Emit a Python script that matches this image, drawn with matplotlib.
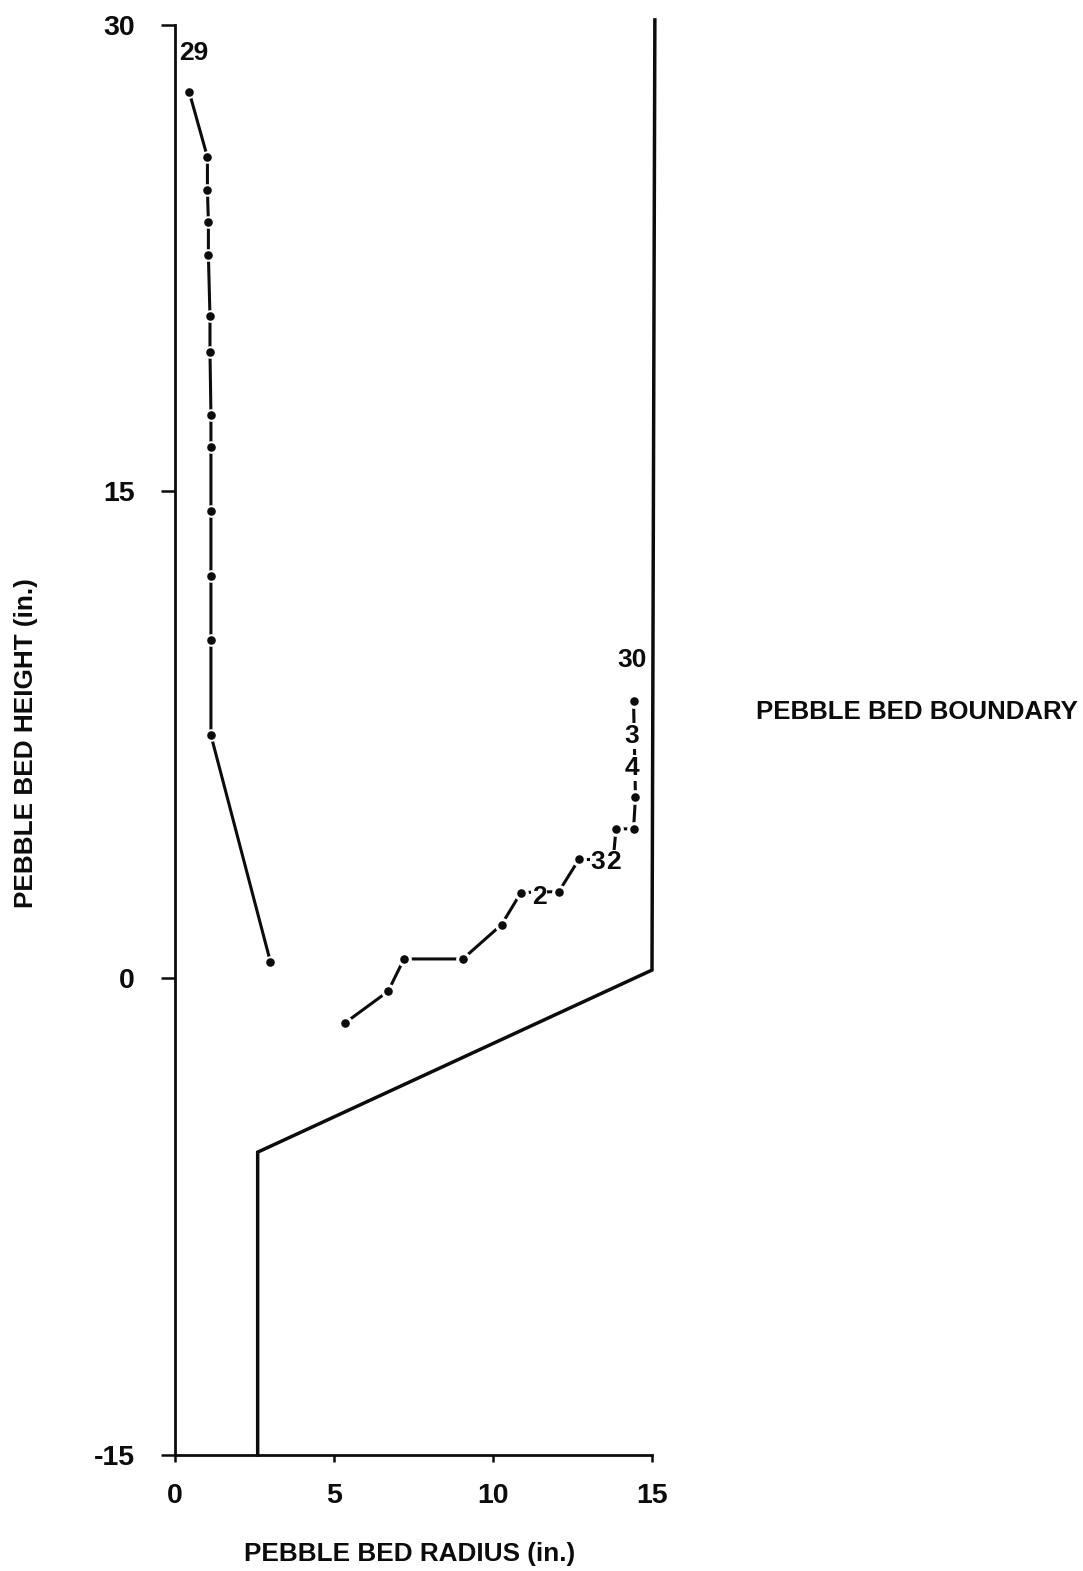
import matplotlib
matplotlib.use('Agg')
import matplotlib.pyplot as plt

# ── Data (inches) ────────────────────────────────────────────────────────────
RUN29_R = [0.45, 1.02, 1.02, 1.05, 1.05, 1.10, 1.10, 1.13, 1.13, 1.13, 1.13, 1.13, 1.13, 3.00]
RUN29_H = [27.88, 25.84, 24.8, 23.79, 22.75, 20.83, 19.72, 17.74, 16.73, 14.72, 12.65, 10.65, 7.65, 0.52]

RUN30_R = [5.35, 6.70, 7.20, 9.05, 10.27, 10.88, 12.07, 12.70, 13.30, 13.78, 13.87, 14.42, 14.48, 14.42]
RUN30_H = [-1.40, -0.41, 0.61, 0.61, 1.69, 2.70, 2.73, 3.74, 3.74, 3.74, 4.71, 4.70, 5.70, 8.72]

BOUND_R = [15.09, 15.0, 2.6, 2.6]
BOUND_H = [30.16, 0.26, -5.47, -15.0]

X_TICKS = [0, 5, 10, 15]
X_LABELS = ['0', '5', '10', '15']
Y_TICKS = [-15, 0, 15.34, 30]   # the scan's 15 mark sits a little high
Y_LABELS = ['-15', '0', '15', '30']

# ── Canvas ───────────────────────────────────────────────────────────────────
W, H = 1083, 1571
FONT = 'Liberation Sans'
INK = '#0c0c0c'

fig = plt.figure(figsize=(W / 100, H / 100), dpi=100, facecolor='white')
ax = fig.add_axes([175 / W, 1 - 1455 / H, (652 - 175) / W, (1455 - 25) / H])
ax.set_xlim(0, 15)
ax.set_ylim(-15, 30)

for side in ('top', 'right'):
    ax.spines[side].set_visible(False)
for side in ('left', 'bottom'):
    ax.spines[side].set_linewidth(2.0)
    ax.spines[side].set_color(INK)

ax.set_xticks(X_TICKS, X_LABELS)
ax.set_yticks(Y_TICKS, Y_LABELS)
ax.tick_params(axis='x', length=5, width=1.8, color=INK, pad=15, labelcolor=INK)
ax.tick_params(axis='y', length=10, width=1.8, color=INK, pad=19, labelcolor=INK)
for lab in ax.get_xticklabels() + ax.get_yticklabels():
    lab.set_fontfamily(FONT)
    lab.set_fontsize(20.5)
    lab.set_fontweight('bold')

# ── Boundary and the two runs ────────────────────────────────────────────────
ax.plot(BOUND_R, BOUND_H, color=INK, lw=2.5, clip_on=False, solid_joinstyle='miter', zorder=3)

ax.plot(RUN29_R, RUN29_H, color=INK, lw=2.2, marker='o', ms=7.6, mfc=INK,
        mec='white', mew=1.4, clip_on=False, zorder=4)
ax.plot(RUN30_R, RUN30_H, color=INK, lw=2.2, clip_on=False, zorder=4)
# only the real dots of run 30 get a marker, digits stand in for the others
DOTS = [i for i in range(len(RUN30_R)) if i not in (8, 9)]
ax.plot([RUN30_R[i] for i in DOTS], [RUN30_H[i] for i in DOTS], ls='none', marker='o',
        ms=8.4, mfc=INK, mec='white', mew=2.2, clip_on=False, zorder=4)

# ── Point labels ─────────────────────────────────────────────────────────────
def label(x, y, s, size=19, box=False):
    kw = dict(bbox=dict(facecolor='white', edgecolor='none', pad=0.5)) if box else {}
    ax.text(x, y, s, fontfamily=FONT, fontsize=size, fontweight='bold', color=INK,
            ha='center', va='center', zorder=5, **kw)

label(0.58, 29.12, '29')
label(14.36, 10.03, '30')
label(14.36, 7.62, '3', box=True)
label(14.36, 6.62, '4', box=True)
label(11.45, 2.55, '2', box=True)
label(13.30, 3.65, '3', box=True)
label(13.80, 3.65, '2', box=True)

# ── Titles ───────────────────────────────────────────────────────────────────
fig.text(410 / W, 1 - 1554 / H, 'PEBBLE BED RADIUS (in.)', fontfamily=FONT, fontsize=18.8,
         fontweight='bold', color=INK, ha='center', va='center')
fig.text(26 / W, 1 - 743 / H, 'PEBBLE BED HEIGHT (in.)', fontfamily=FONT, fontsize=18.8,
         fontweight='bold', color=INK, ha='center', va='center', rotation=90)
fig.text(917 / W, 1 - 712 / H, 'PEBBLE BED BOUNDARY', fontfamily=FONT, fontsize=18.6,
         fontweight='bold', color=INK, ha='center', va='center')

fig.savefig('out.png', dpi=100, facecolor='white')
